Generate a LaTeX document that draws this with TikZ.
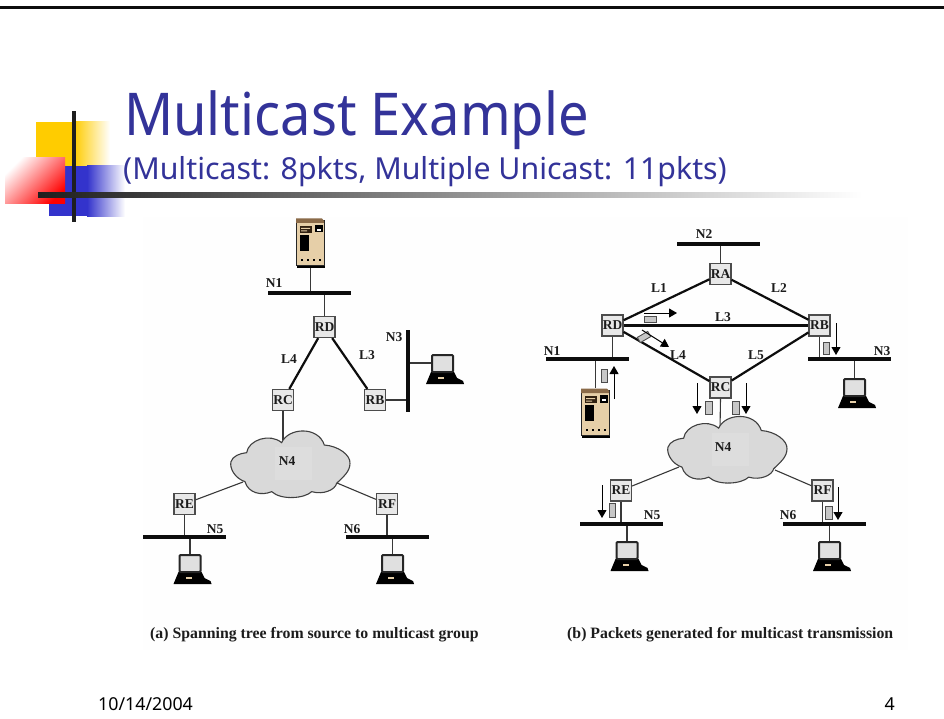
\documentclass[tikz,border=0pt]{standalone}
\usepackage{fontspec}
\usetikzlibrary{arrows.meta}
\setmainfont{Liberation Serif}
\newfontfamily\uifont{Noto Sans}
\newfontfamily\uinarrow[FakeStretch=0.92]{Noto Sans}
\definecolor{titleblue}{HTML}{333399}
\definecolor{ink}{HTML}{1C1C1C}
\definecolor{blocky}{HTML}{FFCC00}
\definecolor{blockb}{HTML}{3333CC}
\definecolor{servertan}{HTML}{E6CFA8}
\definecolor{servertop}{HTML}{8A6A48}
\tikzset{
  router/.style={draw=black!70,line width=1.2pt,fill=black!9,minimum width=21pt,minimum height=21pt,inner sep=0pt,font=\bfseries\fontsize{13.5}{14}\selectfont,text=ink},
  lab/.style={inner sep=0pt,font=\bfseries\fontsize{13.5}{14}\selectfont,text=ink},
  hbar/.style={fill=black!95,minimum width=83pt,minimum height=3.4pt,inner sep=0pt},
  vbar/.style={fill=black!95,minimum width=3.4pt,minimum height=82pt,inner sep=0pt},
  thin link/.style={draw=black!78,line width=1.1pt},
  thick link/.style={draw=black!95,line width=2.2pt},
  flow/.style={draw=black,line width=1pt,-{Triangle[length=8pt,width=9pt]}},
  packet/.style={draw=black!70,line width=.9pt,fill=black!22},
  devbox/.style={inner sep=0pt,minimum width=#1},
  caption/.style={inner sep=0pt,font=\bfseries\fontsize{15.8}{16}\selectfont,text=ink}
}
\newcommand{\computerat}[3]{%
  \node[devbox=23pt,minimum height=18pt] (#1) at (#2,#3+9) {};
  \begin{scope}[shift={(#2-11.5,#3)}]
    \fill[black] (0,18) -- (23,18) -- (26,24) -- (32,27) -- (33,30) -- (-5,30) -- cycle;
    \fill[servertan] (7,22.5) rectangle (13,24.5);
    \draw[black!85,fill=black!12,line width=2pt,rounded corners=1pt] (1,1) rectangle (22,18);
  \end{scope}}
\newcommand{\serverat}[3]{%
  \node[devbox=29pt,minimum height=50pt] (#1) at (#2,#3+25) {};
  \begin{scope}[shift={(#2-14.5,#3)}]
    \fill[black] (1,46) rectangle (29,50);
    \draw[black!85,fill=servertan,line width=.8pt] (0,2) rectangle (28,47);
    \fill[servertop] (0,0.5) -- (26,0.5) -- (28,3) -- (28,5) -- (0,5) -- cycle;
    \fill[black] (3.5,17) rectangle (12.5,33);
    \fill[black!75!brown] (4,8) rectangle (16,15);
    \fill[servertan] (5,10) rectangle (14,11) (5,12.5) rectangle (11,13.5);
    \fill[black] (19,7) rectangle (27,14.5);
    \fill[white] (21,11) rectangle (25,13);
    \foreach \d in {6,12,18,24} \fill[black] (\d-.8,41.2) rectangle (\d+.8,42.8);
  \end{scope}}
\newcommand{\cloudat}[2]{%
  \begin{scope}[shift={(#1,#2)}]
  \begin{scope}[x=.3333pt,y=-.3333pt]
    \draw[draw=black!75,fill=black!15,line width=1.1pt]
      (455,38) .. controls (475,-8) and (565,-12) .. (583,45)
      .. controls (625,48) and (662,75) .. (660,100)
      .. controls (660,125) and (640,140) .. (620,160)
      .. controls (615,180) and (580,195) .. (545,185)
      .. controls (525,205) and (455,212) .. (425,185)
      .. controls (395,198) and (355,190) .. (345,155)
      .. controls (315,145) and (298,115) .. (303,95)
      .. controls (308,78) and (330,70) .. (350,68)
      .. controls (355,30) and (420,8) .. (455,38) -- cycle;
  \end{scope}
  \fill[black!13.5] (145,17) rectangle (182,50);
  \end{scope}}
\begin{document}
\begin{tikzpicture}[x=1pt,y=-1pt]
\useasboundingbox (0,0) rectangle (944,719);
\fill[white] (0,0) rectangle (944,719);
\fill[black!0.5] (143,217) rectangle (908,650);
% slide frame
\fill[black!95] (0,6.2) rectangle (944,9.4);
% decoration
\fill[blocky] (36,122) rectangle (74,166);
\shade[left color=blocky,right color=white] (74,122) rectangle (110,166);
\fill[blockb] (49,166) rectangle (87,216);
\shade[left color=blockb,right color=white] (87,166) rectangle (125,217);
\shade[shading=axis,left color=white,right color=red,shading angle=45] (5,158) rectangle (65,204);
\fill[black!88] (72,111) rectangle (76,222);
\shade[left color=black!88,middle color=black!35,right color=white] (38,193) rectangle (862,197.5);
% title
\node[anchor=base west,inner sep=0pt,text=titleblue,font=\uinarrow\fontsize{59}{60}\selectfont] (title) at (124,136) {Multicast Example};
\node[anchor=base west,inner sep=0pt,text=titleblue,font=\uifont\fontsize{30.3}{31}\selectfont] (subtitle) at (123,180) {(Multicast: 8pkts, Multiple Unicast: 11pkts)};
% footer
\node[anchor=base west,inner sep=0pt,font=\uifont\fontsize{17.8}{18}\selectfont] (date) at (98,710) {10/14/2004};
\node[anchor=base east,inner sep=0pt,font=\uifont\fontsize{17.8}{18}\selectfont] (page) at (895,710) {4};

% ===== left figure
\serverat{aS}{310.5}{218}
\node[hbar] (aN1) at (309.5,293) {};
\node[router] (aRD) at (324.5,327) {RD};
\node[router] (aRC) at (283,400) {RC};
\node[router] (aRB) at (375,400) {RB};
\node[vbar] (aN3) at (408,371) {};
\computerat{aC3}{442.5}{354}
\node[hbar] (aN5) at (184.5,537) {};
\node[hbar] (aN6) at (387.5,537) {};
\node[router] (aRE) at (184.5,504) {RE};
\node[router] (aRF) at (387,504) {RF};
\computerat{aC5}{190}{554}
\computerat{aC6}{392.5}{554}
\coordinate (aCT) at (283,440);
\coordinate (aCE) at (243,482);
\coordinate (aCF) at (337,483);
\draw[thin link] (aS.south) -- (aS.south |- aN1.north);
\draw[thin link] (aRD.north) -- (aRD.north |- aN1.south);
\draw[thick link] (aRD) -- (aRC);
\draw[thick link] (aRD) -- (aRB);
\draw[thin link] (aRB.east) -- (aRB.east -| aN3.west);
\draw[thin link] (aC3.west) -- (aC3.west -| aN3.east);
\draw[thin link] (aRC.south) -- (aCT);
\draw[thin link] (aRE) -- (aCE);
\draw[thin link] (aRF) -- (aCF);
\draw[thin link] (aRE.south) -- (aRE.south |- aN5.north);
\draw[thin link] (aRF.south) -- (aRF.south |- aN6.north);
\draw[thin link] (aC5.north) -- (aC5.north |- aN5.south);
\draw[thin link] (aC6.north) -- (aC6.north |- aN6.south);
\cloudat{130}{430}
\node[lab] (aN1l) at (274,283) {N1};
\node[lab] (aL4) at (289,359) {L4};
\node[lab] (aL3) at (367,355) {L3};
\node[lab] (aN3l) at (394,337) {N3};
\node[lab] (aN4l) at (287,461) {N4};
\node[lab] (aN5l) at (215,529) {N5};
\node[lab] (aN6l) at (352,529) {N6};
\node[caption,anchor=base west] (capa) at (150,638) {(a) Spanning tree from source to multicast group};

% ===== right figure
\node[hbar] (bN2) at (718,244) {};
\node[hbar] (bN1) at (587,359) {};
\node[hbar] (bN3) at (849,359) {};
\node[hbar] (bN5) at (621,524) {};
\node[hbar] (bN6) at (824,524) {};
\node[router] (bRA) at (720.5,274) {RA};
\node[router] (bRD) at (612.5,325.5) {RD};
\node[router] (bRB) at (819.5,325.5) {RB};
\node[router] (bRC) at (720.5,387.5) {RC};
\node[router] (bRE) at (621,490.5) {RE};
\node[router] (bRF) at (822.5,490.5) {RF};
\serverat{bS}{595.5}{388}
\computerat{bC3}{854.5}{378}
\computerat{bC5}{627}{541}
\computerat{bC6}{829.5}{541}
\coordinate (bCT) at (720,430);
\coordinate (bCE) at (679,467);
\coordinate (bCF) at (775,470);
\draw[thin link] (bRA.north) -- (bRA.north |- bN2.south);
\draw[thick link] (bRD) -- (bRA);
\draw[thick link] (bRA) -- (bRB);
\draw[thick link] (bRD) -- (bRB);
\draw[thick link] (bRD) -- (bRC);
\draw[thick link] (bRC) -- (bRB);
\draw[thin link] (bRD.south) -- (bRD.south |- bN1.north);
\draw[thin link] (bRB.south) -- (bRB.south |- bN3.north);
\draw[thin link] (bS.north) -- (bS.north |- bN1.south);
\draw[thin link] (bC3.north) -- (bC3.north |- bN3.south);
\draw[thin link] (bRC.south) -- (bCT);
\draw[thin link] (bRE) -- (bCE);
\draw[thin link] (bRF) -- (bCF);
\draw[thin link] (bRE.south) -- (bRE.south |- bN5.north);
\draw[thin link] (bRF.south) -- (bRF.south |- bN6.north);
\draw[thin link] (bC5.north) -- (bC5.north |- bN5.south);
\draw[thin link] (bC6.north) -- (bC6.north |- bN6.south);
\cloudat{567}{415.5}
% packets and flows
\draw[packet] (601,369) rectangle (607,382);
\draw[flow] (614,399) -- (614,366);
\draw[packet] (644,316) rectangle (656,322);
\draw[flow] (644,313) -- (677,313);
\draw[packet,rotate around={30:(644,337)}] (638,334) rectangle (650,340);
\draw[flow] (642,330) -- (669,347);
\draw[packet] (823,342) rectangle (829,354);
\draw[flow] (836,323) -- (836,355);
\draw[packet] (705,401) rectangle (712,414);
\draw[flow] (697,383) -- (697,414);
\draw[packet] (732,401) rectangle (739,414);
\draw[flow] (746,383) -- (746,414);
\draw[packet] (609,503) rectangle (615,517);
\draw[flow] (602,485) -- (602,518);
\draw[packet] (825,506) rectangle (832,519);
\draw[flow] (838,487) -- (838,520);
% labels
\node[lab] (bN2l) at (704,234) {N2};
\node[lab] (bL1) at (659,288) {L1};
\node[lab] (bL2) at (779,288) {L2};
\node[lab] (bL3) at (723,317) {L3};
\node[lab] (bL4) at (678,355) {L4};
\node[lab] (bL5) at (756,355) {L5};
\node[lab] (bN1l) at (552,351) {N1};
\node[lab] (bN3l) at (882,351) {N3};
\node[lab] (bN4l) at (723,447) {N4};
\node[lab] (bN5l) at (652,515) {N5};
\node[lab] (bN6l) at (788,515) {N6};
\node[caption,anchor=base west] (capb) at (567,638) {(b) Packets generated for multicast transmission};
\end{tikzpicture}
\end{document}
